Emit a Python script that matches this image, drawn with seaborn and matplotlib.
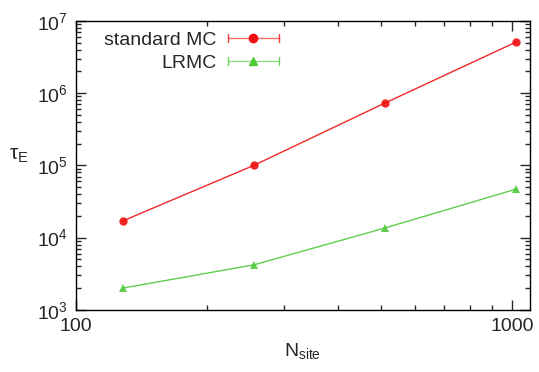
import numpy as np
import pandas as pd
import seaborn as sns
import matplotlib.pyplot as plt
from matplotlib.lines import Line2D
from matplotlib.legend_handler import HandlerBase
from matplotlib.ticker import NullFormatter, FixedLocator, FixedFormatter

# data
n_site = [128, 256, 512, 1024]
tau_std = [1.7e4, 1.0e5, 7.3e5, 5.1e6]
tau_lrmc = [2.0e3, 4.2e3, 1.36e4, 4.7e4]
x_ticks = [100, 1000]
x_tick_labels = ['100', '1000']

sns.set_style('ticks')
plt.rcParams['font.family'] = ['Liberation Sans', 'DejaVu Sans']
plt.rcParams['mathtext.fontset'] = 'custom'
plt.rcParams['mathtext.rm'] = 'Liberation Sans'
plt.rcParams['mathtext.it'] = 'Liberation Sans:italic'
plt.rcParams['mathtext.sf'] = 'Liberation Sans'


class CapHandler(HandlerBase):
    # gnuplot-like key sample: line with end caps and marker in the middle
    def create_artists(self, legend, orig, xd, yd, w, h, fontsize, trans):
        y = h / 2 - yd
        x0, x1 = -xd, -xd + w
        c = orig.get_color()
        ln = Line2D([x0, x1], [y, y], color=c, lw=1, alpha=0.6)
        caps = Line2D([x0, x0, np.nan, x1, x1], [y - h * 0.3, y + h * 0.3, np.nan, y - h * 0.3, y + h * 0.3],
                      color=c, lw=1, alpha=0.8)
        mk = Line2D([(x0 + x1) / 2], [y], marker=orig.get_marker(), color=c,
                    markersize=orig.get_markersize(), linestyle='none')
        for a in (ln, caps, mk):
            a.set_transform(trans)
        return [ln, caps, mk]


fig = plt.figure(figsize=(5.39, 3.72), dpi=100)
ax = fig.add_axes([0.141, 0.167, 0.842, 0.777])

sns.lineplot(x=n_site, y=tau_std, ax=ax, color='#f01010', marker='o', markersize=6,
             markeredgewidth=0, lw=1, label='standard MC')
sns.lineplot(x=n_site, y=tau_lrmc, ax=ax, color='#4ec93a', marker='^', markersize=6,
             markeredgewidth=0, lw=1, label='LRMC')
for l in ax.lines:
    l.set_alpha(0.9)

ax.set_xscale('log')
ax.set_yscale('log')
ax.set_xlim(100, 1100)
ax.set_ylim(1e3, 1e7)
ax.xaxis.set_major_locator(FixedLocator(x_ticks))
ax.xaxis.set_major_formatter(FixedFormatter(x_tick_labels))
ax.xaxis.set_minor_formatter(NullFormatter())
ax.tick_params(which='both', direction='in', top=True, right=True, labelsize=14, width=1)
ax.tick_params(which='major', length=7, pad=6)
ax.tick_params(which='minor', length=3.5)
for s in ax.spines.values():
    s.set_linewidth(1)
    s.set_color('black')

ax.set_xlabel(r'N$_{\mathrm{site}}$', fontsize=14, labelpad=4)
ax.set_ylabel(r'τ$_{\mathrm{E}}$', fontsize=15, rotation=0, labelpad=14)
ax.yaxis.set_label_coords(-0.125, 0.5)

handles, labels = ax.get_legend_handles_labels()
ax.legend(handles, labels, loc='upper left', frameon=False, markerfirst=False, fontsize=14,
          handlelength=2.6, handletextpad=0.6, labelspacing=0.25,
          borderaxespad=0.3, bbox_to_anchor=(0.032, 1.01),
          handler_map={Line2D: CapHandler()})

fig.savefig('out.png', dpi=100)
